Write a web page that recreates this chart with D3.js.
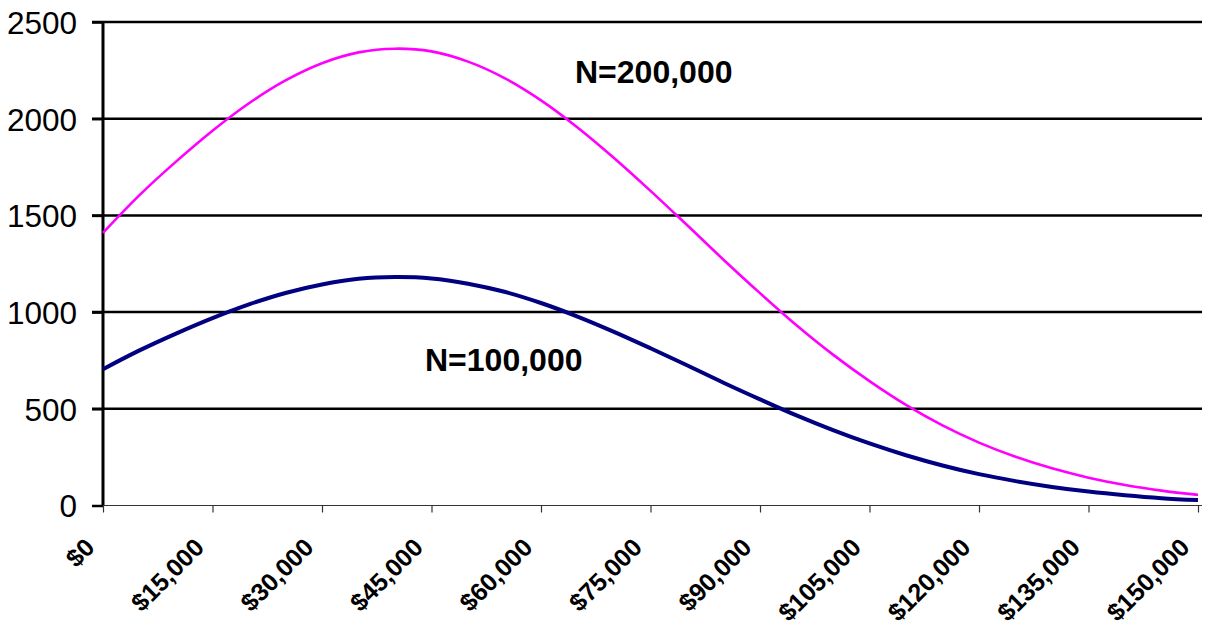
<!DOCTYPE html>
<html><head><meta charset="utf-8">
<script src="https://cdn.jsdelivr.net/npm/d3@7"></script>
<style>body{margin:0;background:#fff}svg{display:block}</style>
</head><body>
<svg id="c" width="1211" height="625"></svg>
<script>
const incomes = [0,5000,10000,15000,20000,25000,30000,35000,40000,45000,50000,55000,60000,65000,70000,75000,80000,85000,90000,95000,100000,105000,110000,115000,120000,125000,130000,135000,140000,145000,150000];
const n200k = [1410,1605,1778,1938,2080,2198,2287,2343,2362,2348,2295,2210,2095,1955,1797,1627,1450,1271,1098,932,780,643,520,414,325,252,192,144,106,77,55];
const n100k = [705,802,889,969,1040,1099,1143,1172,1181,1174,1147,1105,1047,977,898,813,725,635,549,466,390,321,260,207,162,126,96,72,53,38,28];
const xTicks = [0,15000,30000,45000,60000,75000,90000,105000,120000,135000,150000];
const yTicks = [0,500,1000,1500,2000,2500];
const seriesLabels = ["N=200,000","N=100,000"];

const svg = d3.select("#c");
const x = d3.scaleLinear().domain([0,150000]).range([103,1198]);
const y = d3.scaleLinear().domain([0,2500]).range([505.5,22]);
const font = "Arial, 'Liberation Sans', sans-serif";

// gridlines
svg.append("g").selectAll("line").data(yTicks.filter(d=>d>0)).join("line")
  .attr("x1",92).attr("x2",1202).attr("y1",d=>y(d)).attr("y2",d=>y(d))
  .attr("stroke","#000").attr("stroke-width",2.5);

// y-axis
const yAxis = svg.append("g").attr("transform","translate(103,0)")
  .call(d3.axisLeft(y).tickValues(yTicks).tickSize(11).tickPadding(15).tickFormat(d3.format("d")));
yAxis.select(".domain").attr("stroke","#000").attr("stroke-width",3).attr("d","M0,22V505.5");
yAxis.selectAll(".tick line").attr("stroke","#000").attr("stroke-width",2.5);
yAxis.selectAll("text").attr("font-family",font).attr("font-size",31.5).attr("fill","#000").attr("dy","0.36em");

// x-axis
const xAxis = svg.append("g").attr("transform","translate(0,505.5)")
  .call(d3.axisBottom(x).tickValues(xTicks).tickSize(7).tickFormat(""));
xAxis.select(".domain").attr("stroke","#333").attr("stroke-width",1.2).attr("d","M103,0H1202");
xAxis.selectAll(".tick line").attr("stroke","#333").attr("stroke-width",1.2);
svg.append("g").selectAll("text").data(xTicks).join("text")
  .attr("transform",d=>`translate(${x(d)-7},549) rotate(-45)`)
  .attr("text-anchor","end").attr("font-family",font).attr("font-weight","bold")
  .attr("font-size",25).attr("fill","#000")
  .text(d=>"$"+d3.format(",")(d));

// lines
const line = vals => d3.line().x((d,i)=>x(incomes[i])).y(d=>y(d)).curve(d3.curveCatmullRom)(vals);
svg.append("path").attr("d",line(n200k)).attr("fill","none").attr("stroke","#FF00FF").attr("stroke-width",2.6);
svg.append("path").attr("d",line(n100k)).attr("fill","none").attr("stroke","#000080").attr("stroke-width",4);

// labels
svg.append("text").attr("x",575).attr("y",82.5).attr("font-family",font).attr("font-weight","bold")
  .attr("font-size",32).attr("fill","#000").text(seriesLabels[0]);
svg.append("text").attr("x",425).attr("y",370.5).attr("font-family",font).attr("font-weight","bold")
  .attr("font-size",32).attr("fill","#000").text(seriesLabels[1]);
</script>
</body></html>
